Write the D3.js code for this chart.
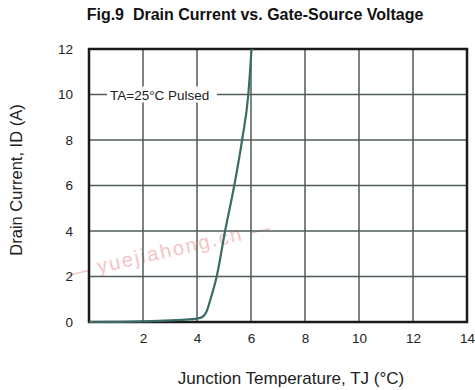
<!DOCTYPE html>
<html>
<head>
<meta charset="utf-8">
<script src="https://cdn.jsdelivr.net/npm/d3@7"></script>
<style>
  body { margin: 0; background: #fff; }
  svg { font-family: "Liberation Sans", Arial, sans-serif; }
  text { white-space: pre; }
</style>
</head>
<body>
<div id="chart"></div>
<script>
// values
const xTicks = [2, 4, 6, 8, 10, 12, 14];
const yTicks = [0, 2, 4, 6, 8, 10, 12];
const curveX = [0, 2, 3, 4, 4.2, 4.35, 4.5, 4.73, 5.04, 5.38, 5.67, 5.9, 6.02];
const curveY = [0, 0.03, 0.07, 0.15, 0.22, 0.45, 1.0, 2, 4, 6, 8, 10, 12];

const width = 475, height = 390;
const margin = {left: 89, right: 8, top: 49, bottom: 68};
const w = width - margin.left - margin.right;
const h = height - margin.top - margin.bottom;

const svg = d3.select("#chart").append("svg")
  .attr("width", width).attr("height", height);

const x = d3.scaleLinear().domain([0, 14]).range([margin.left, margin.left + w]);
const y = d3.scaleLinear().domain([0, 12]).range([margin.top + h, margin.top]);

// watermark
svg.append("text")
  .attr("transform", "translate(70,280) rotate(-13)")
  .attr("font-size", 20)
  .attr("fill", "#f4c4c4")
  .attr("letter-spacing", 2)
  .text("— yuejiahong.cn —");

// grid
const grid = svg.append("g").attr("stroke", "#505c59").attr("stroke-width", 1.5);
grid.selectAll(".gx").data(d3.range(2, 14, 2)).enter().append("line")
  .attr("x1", d => x(d)).attr("x2", d => x(d))
  .attr("y1", y(0)).attr("y2", y(12));
grid.selectAll(".gy").data(d3.range(2, 12, 2)).enter().append("line")
  .attr("x1", x(0)).attr("x2", x(14))
  .attr("y1", d => y(d)).attr("y2", d => y(d));

// annotation with white box over grid line
const note = svg.append("g");
note.append("rect")
  .attr("x", 107).attr("y", y(10) - 8)
  .attr("width", 110).attr("height", 16)
  .attr("fill", "#fff");
note.append("text")
  .attr("x", 110).attr("y", y(10) + 5)
  .attr("font-size", 13.5).attr("fill", "#222")
  .text("TA=25°C Pulsed");

// frame
svg.append("rect")
  .attr("x", x(0)).attr("y", y(12))
  .attr("width", w).attr("height", h)
  .attr("fill", "none").attr("stroke", "#1a1a1a").attr("stroke-width", 2.5);

// curve
const pts = curveX.map((v, i) => [v, curveY[i]]);
svg.append("path")
  .datum(pts)
  .attr("fill", "none")
  .attr("stroke", "#3a6b66")
  .attr("stroke-width", 2.2)
  .attr("d", d3.line().x(d => x(d[0])).y(d => y(d[1])).curve(d3.curveMonotoneX));

// axes (labels only)
const xAxis = svg.append("g")
  .attr("transform", `translate(0,${y(0)})`)
  .call(d3.axisBottom(x).tickValues(xTicks).tickSize(0).tickPadding(11));
xAxis.select(".domain").remove();
xAxis.selectAll("text").attr("font-size", 13.5).attr("fill", "#222")
  .attr("font-family", "Liberation Sans, Arial, sans-serif");

const yAxis = svg.append("g")
  .attr("transform", `translate(${x(0)},0)`)
  .call(d3.axisLeft(y).tickValues(yTicks).tickSize(0).tickPadding(16));
yAxis.select(".domain").remove();
yAxis.selectAll("text").attr("font-size", 13.5).attr("fill", "#222")
  .attr("font-family", "Liberation Sans, Arial, sans-serif");

// title
svg.append("text")
  .attr("x", 255).attr("y", 20)
  .attr("text-anchor", "middle")
  .attr("font-size", 16).attr("font-weight", "bold").attr("fill", "#111")
  .text("Fig.9  Drain Current vs. Gate-Source Voltage");

// axis titles
svg.append("text")
  .attr("x", 291).attr("y", 384)
  .attr("text-anchor", "middle")
  .attr("font-size", 17).attr("fill", "#222")
  .text("Junction Temperature, TJ (°C)");

svg.append("text")
  .attr("transform", "translate(22,180) rotate(-90)")
  .attr("text-anchor", "middle")
  .attr("font-size", 16.5).attr("fill", "#222")
  .text("Drain Current, ID (A)");
</script>
</body>
</html>
